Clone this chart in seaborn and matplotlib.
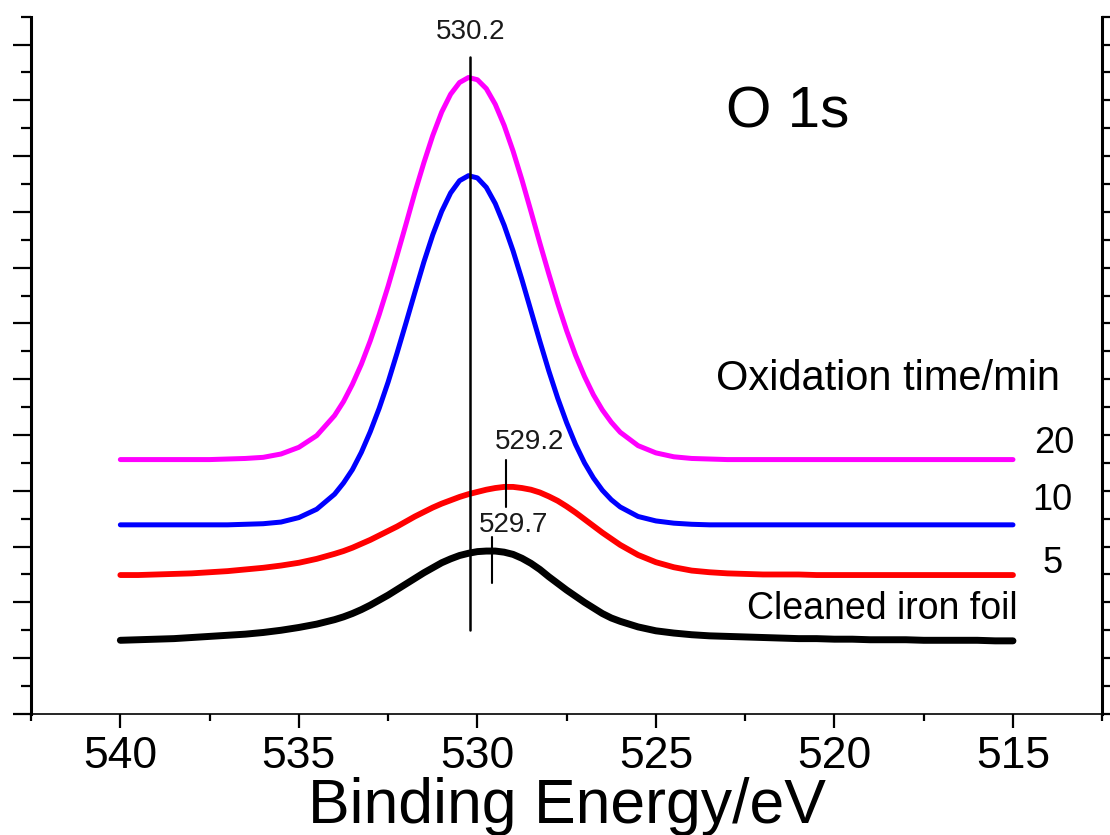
import matplotlib
matplotlib.use('Agg')
import matplotlib.pyplot as plt
import numpy as np
import pandas as pd
import seaborn as sns
from matplotlib.ticker import MultipleLocator, NullFormatter

# Binding energy grid (eV): coarse on the flat tails, finer across the peaks
energy = np.concatenate([np.arange(540, 534.4, -0.5),
                         np.arange(534, 525.9, -0.25),
                         np.arange(525.5, 514.9, -0.5)])

# Intensities (arbitrary units, already offset)
foil = [1.32, 1.33, 1.34, 1.35, 1.37, 1.39, 1.41, 1.43, 1.46, 1.50, 1.55, 1.61,
        1.69, 1.74, 1.80, 1.87, 1.95, 2.04, 2.13, 2.23, 2.33, 2.43, 2.53,
        2.62, 2.71, 2.78, 2.84, 2.88, 2.91, 2.92, 2.92, 2.90, 2.86, 2.79,
        2.70, 2.59, 2.46, 2.34, 2.22, 2.11, 2.00, 1.90, 1.80, 1.72, 1.66,
        1.56, 1.49, 1.45, 1.42, 1.40, 1.39, 1.38, 1.37, 1.36, 1.35, 1.35,
        1.34, 1.34, 1.33, 1.33, 1.33, 1.32, 1.32, 1.32, 1.32, 1.31, 1.31]
ox5 = [2.49, 2.49, 2.50, 2.51, 2.52, 2.54, 2.56, 2.59, 2.62, 2.66, 2.71, 2.78,
       2.87, 2.92, 2.98, 3.05, 3.12, 3.20, 3.28, 3.36, 3.45, 3.54, 3.62,
       3.70, 3.77, 3.83, 3.89, 3.94, 3.98, 4.02, 4.05, 4.07, 4.07, 4.05,
       4.02, 3.97, 3.90, 3.82, 3.72, 3.61, 3.49, 3.37, 3.25, 3.14, 3.03,
       2.85, 2.72, 2.63, 2.57, 2.54, 2.52, 2.51, 2.50, 2.50, 2.50, 2.49,
       2.49, 2.49, 2.49, 2.49, 2.49, 2.49, 2.49, 2.49, 2.49, 2.49, 2.49]
ox10 = [3.39, 3.39, 3.39, 3.39, 3.39, 3.39, 3.39, 3.40, 3.41, 3.44, 3.52, 3.67,
        3.94, 4.14, 4.38, 4.69, 5.06, 5.48, 5.95, 6.47, 7.01, 7.56, 8.10,
        8.59, 9.01, 9.34, 9.56, 9.65, 9.61, 9.44, 9.15, 8.76, 8.30, 7.78,
        7.23, 6.68, 6.15, 5.66, 5.22, 4.83, 4.50, 4.23, 4.01, 3.84, 3.71,
        3.54, 3.46, 3.42, 3.40, 3.39, 3.39, 3.39, 3.39, 3.39, 3.39, 3.39,
        3.39, 3.39, 3.39, 3.39, 3.39, 3.39, 3.39, 3.39, 3.39, 3.39, 3.39]
ox20 = [4.56, 4.56, 4.56, 4.56, 4.56, 4.56, 4.57, 4.58, 4.60, 4.66, 4.78, 4.99,
        5.35, 5.60, 5.91, 6.27, 6.69, 7.16, 7.67, 8.22, 8.78, 9.35, 9.88,
        10.37, 10.79, 11.11, 11.32, 11.41, 11.37, 11.21, 10.93, 10.55, 10.09, 9.57,
        9.01, 8.44, 7.89, 7.36, 6.87, 6.43, 6.05, 5.72, 5.45, 5.23, 5.05,
        4.81, 4.68, 4.61, 4.58, 4.57, 4.56, 4.56, 4.56, 4.56, 4.56, 4.56,
        4.56, 4.56, 4.56, 4.56, 4.56, 4.56, 4.56, 4.56, 4.56, 4.56, 4.56]

series = [('Cleaned iron foil', foil, 'black', 5.0),
          ('5', ox5, '#ff0000', 4.2),
          ('10', ox10, '#0000ff', 3.6),
          ('20', ox20, '#ff00ff', 3.6)]

peak_main = 530.2
peak_5 = 529.2
peak_foil = 529.6

sns.set_style('ticks')
plt.rcParams['font.family'] = ['Liberation Sans', 'DejaVu Sans']

fig = plt.figure(figsize=(11.1, 8.35), dpi=100)
ax = fig.add_axes([0.028, 0.145, 0.965, 0.835])

for name, vals, col, lw in series:
    sns.lineplot(x=energy, y=vals, color=col, lw=lw, ax=ax)

# peak markers
small = dict(ha='center', va='center', fontsize=20, color='#1a1a1a')
ax.plot([peak_main, peak_main], [1.51, 11.78], color='black', lw=1.8)
ax.text(peak_main, 12.23, '530.2', **small)
ax.plot([peak_5, peak_5], [3.71, 4.56], color='black', lw=1.5)
ax.text(528.55, 4.88, '529.2', **small)
ax.plot([peak_foil, peak_foil], [2.35, 3.17], color='black', lw=1.5)
ax.text(529.0, 3.39, '529.7', **small)

# labels
ax.text(521.3, 10.78, 'O 1s', ha='center', va='center', fontsize=42, color='black')
ax.text(518.5, 6.01, 'Oxidation time/min', ha='center', va='center', fontsize=30, color='black')
ax.text(513.85, 4.84, '20', ha='center', va='center', fontsize=26, color='black')
ax.text(513.9, 3.82, '10', ha='center', va='center', fontsize=26, color='black')
ax.text(513.9, 2.69, '5', ha='center', va='center', fontsize=26, color='black')
ax.text(518.65, 1.88, 'Cleaned iron foil', ha='center', va='center', fontsize=27, color='black')

ax.set_xlim(542.5, 512.5)
ax.set_ylim(0, 12.5)
ax.xaxis.set_major_locator(MultipleLocator(5))
ax.xaxis.set_minor_locator(MultipleLocator(2.5))
ax.yaxis.set_major_locator(MultipleLocator(1))
ax.yaxis.set_minor_locator(MultipleLocator(0.5))
ax.yaxis.set_major_formatter(NullFormatter())

ax.set_xlabel('Binding Energy/eV', fontsize=45, labelpad=0, color='black')
ax.set_ylabel('')

ax.spines['top'].set_visible(False)
for side, w in [('left', 2.2), ('right', 2.2), ('bottom', 1.2)]:
    ax.spines[side].set_linewidth(w)
    ax.spines[side].set_color('black')

ax.tick_params(axis='x', which='major', direction='out', length=10, width=1.6,
               labelsize=32, pad=6, colors='black')
ax.tick_params(axis='x', which='minor', direction='out', length=5, width=1.6, colors='black')
ax.tick_params(axis='y', which='major', direction='out', length=13, width=1.6,
               left=True, right=True, colors='black')
ax.tick_params(axis='y', which='minor', direction='out', length=7, width=1.6,
               left=True, right=True, colors='black')

fig.savefig('out.png', dpi=100)
